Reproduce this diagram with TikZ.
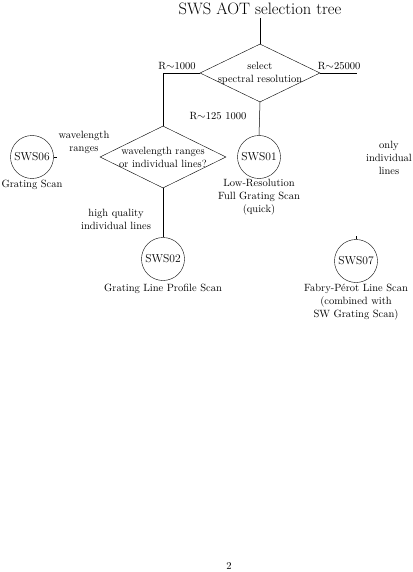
\documentclass[tikz,border=0pt]{standalone}
\usetikzlibrary{shapes.geometric}
\begin{document}
\begin{tikzpicture}[x=1pt,y=-1pt,
  lbl/.style={font=\fontsize{10.5}{13}\selectfont, align=center, inner sep=0pt},
  dia/.style={draw, diamond, minimum width=#1, inner sep=0pt},
  sws/.style={draw, circle, minimum size=43pt, inner sep=0pt, font=\fontsize{11.5}{13}\selectfont},
  conn/.style={line width=0.5pt}]
\useasboundingbox (0,0) rectangle (412,572);
% title
\node[inner sep=0pt, font=\fontsize{16.5}{19}\selectfont] (title) at (260,9) {SWS AOT selection tree};
% diamonds
\node[dia=120pt, minimum height=58pt] (d1) at (260,73) {};
\node[lbl] (d1t) at (260,73) {select\\spectral resolution};
\node[dia=126pt, minimum height=62pt] (d2) at (163,157) {};
\node[lbl] (d2t) at (163,157) {wavelength ranges\\or individual lines?};
% circles
\node[sws] (s01) at (259,157) {SWS01};
\node[sws] (s06) at (32,157) {SWS06};
\node[sws] (s02) at (163,259) {SWS02};
\node[sws] (s07) at (356,261) {SWS07};
\coordinate (top) at (260,18);
\coordinate (r25) at (357,73);
% connectors
\draw[conn] (top) -- (d1.north);
\draw[conn] (d1.west) -| (d2.north);
\draw[conn] (d1.east) -- (r25);
\draw[conn] (d1.south) -- (s01.north);
\draw[conn] (d2.south) -- (s02.north);
\draw[conn] (s06.east) -- ++(3,0);
\draw[conn] (s07.north) -- ++(0,-3);
% labels
\node[lbl] (l1000) at (177,66) {R$\sim$1000};
\node[lbl] (l25000) at (339,66) {R$\sim$25000};
\node[lbl] (l125) at (218,116) {R$\sim$125\hspace{4pt}1000};
\node[lbl] (lwr) at (84,142) {wavelength\\ranges};
\node[lbl] (lhq) at (116,219) {high quality\\individual lines};
\node[lbl] (loil) at (389,158) {only\\individual\\lines};
\node[lbl] (c01) at (259,197) {Low-Resolution\\Full Grating Scan\\(quick)};
\node[lbl] (c06) at (32,185) {Grating Scan};
\node[lbl] (c02) at (163,289) {Grating Line Profile Scan};
\node[lbl] (c07) at (356,302) {Fabry-P\'erot Line Scan\\(combined with\\SW Grating Scan)};
\node[lbl] (page) at (229,566) {2};
\end{tikzpicture}
\end{document}
